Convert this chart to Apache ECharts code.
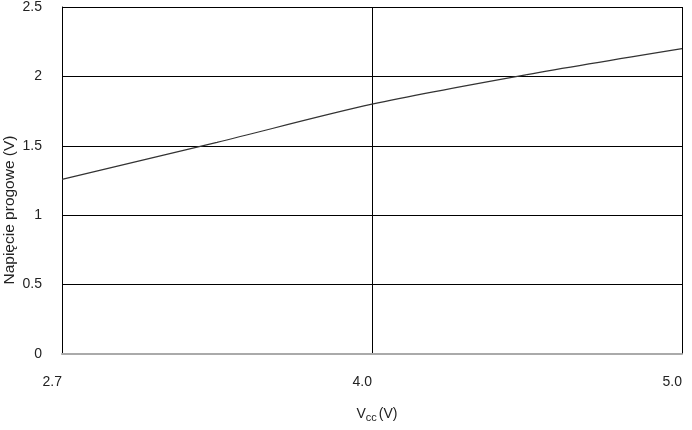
<!DOCTYPE html>
<html>
<head>
<meta charset="utf-8">
<script src="https://cdn.jsdelivr.net/npm/echarts@6/dist/echarts.min.js"></script>
<style>html,body{margin:0;padding:0;background:#fff}#c{width:692px;height:430px}</style>
</head>
<body>
<div id="c"></div>
<script>
// Vcc categories (equally spaced on the chart); only some carry tick labels
var categories = ['2.7', '3.35', '4.0', '4.5', '5.0'];
var tickLabels = ['2.7', '4.0', '5.0'];
// Threshold voltage (V)
var thresholdValues = [1.258, 1.525, 1.80, 2.013, 2.20];
var yTicks = [0, 0.5, 1, 1.5, 2, 2.5];

var chart = echarts.init(document.getElementById('c'));
var font = 'Liberation Sans, Arial, sans-serif';
chart.setOption({
  animation: false,
  grid: {left: 62, right: 10, top: 7, bottom: 76, containLabel: false},
  xAxis: {
    type: 'category',
    data: categories,
    boundaryGap: false,
    axisLine: {show: true, lineStyle: {color: '#aaaaaa', width: 2}},
    axisTick: {show: false},
    axisLabel: {
      interval: 1, align: 'right', margin: 21,
      color: '#222', fontSize: 14, fontFamily: font,
      formatter: function (v) { return tickLabels.indexOf(v) >= 0 ? v : ''; }
    },
    splitLine: {show: true, interval: 1, lineStyle: {color: '#000', width: 1}},
    name: '{v|V}{s|cc}{v|(V)}',
    nameLocation: 'middle',
    nameGap: 52,
    nameTextStyle: {
      padding: [0, 0, 0, 10],
      rich: {
        v: {fontSize: 14, fontFamily: font, color: '#222'},
        s: {fontSize: 11, fontFamily: font, color: '#222', verticalAlign: 'bottom', padding: [6, 2, 0, 0]}
      }
    }
  },
  yAxis: {
    type: 'value',
    min: 0, max: 2.5, interval: 0.5,
    axisLine: {show: true, lineStyle: {color: '#000', width: 1}},
    axisTick: {show: false},
    axisLabel: {
      margin: 20, color: '#222', fontSize: 14, fontFamily: font,
      formatter: function (v) { var i = yTicks.indexOf(v); return i >= 0 ? String(yTicks[i]) : ''; }
    },
    splitLine: {show: true, lineStyle: {color: '#000', width: 1}}
  },
  graphic: [{
    type: 'text',
    x: 10, y: 210,
    rotation: Math.PI / 2,
    style: {
      text: 'Napięcie progowe (V)',
      fontSize: 15.5, fontFamily: font, fill: '#222',
      align: 'center', verticalAlign: 'middle'
    }
  }],
  series: [{
    type: 'line',
    data: thresholdValues,
    showSymbol: false,
    symbol: 'none',
    smooth: 0.3,
    lineStyle: {color: '#333', width: 1.2}
  }]
});
</script>
</body>
</html>
